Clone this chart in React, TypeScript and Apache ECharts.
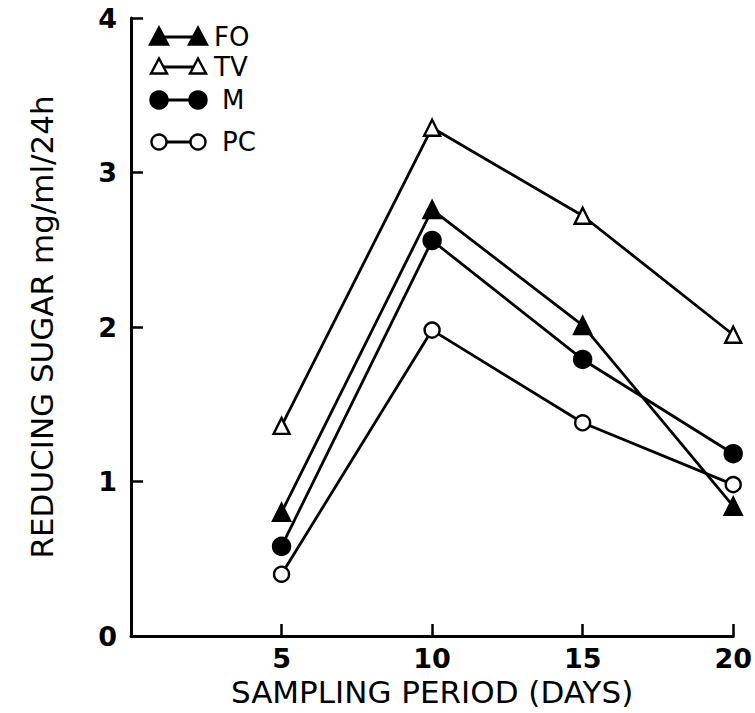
import React, { useEffect, useRef } from "react";
import * as echarts from "echarts";

const days = [5, 10, 15, 20];
const seriesNames = ["FO", "TV", "M", "PC"];
const foValues = [0.8, 2.76, 2.01, 0.84];
const tvValues = [1.36, 3.29, 2.72, 1.95];
const mValues = [0.58, 2.56, 1.79, 1.18];
const pcValues = [0.4, 1.98, 1.38, 0.98];
const xTicks = [5, 10, 15, 20];
const yTicks = [0, 1, 2, 3, 4];

const FONT = "DejaVu Sans";

type Style = { symbol: string; filled: boolean; size: number };
const styles: Style[] = [
  { symbol: "triangle", filled: true, size: 17 },
  { symbol: "triangle", filled: false, size: 16 },
  { symbol: "circle", filled: true, size: 17 },
  { symbol: "circle", filled: false, size: 15 },
];
const allValues = [foValues, tvValues, mValues, pcValues];

function legendGraphic() {
  const rowsY = [37, 67, 100, 142];
  const x1 = 159;
  const x2 = 198;
  const items: any[] = [];
  styles.forEach((s, i) => {
    const y = rowsY[i];
    items.push({
      type: "line",
      shape: { x1, y1: y, x2, y2: y },
      style: { stroke: "#000", lineWidth: 2.8 },
      z: 10,
    });
    [x1, x2].forEach((cx) => {
      const fill = s.filled ? "#000" : "#fff";
      if (s.symbol === "circle") {
        items.push({
          type: "circle",
          shape: { cx, cy: y, r: s.filled ? 8.5 : 7.5 },
          style: { fill, stroke: "#000", lineWidth: 2.4 },
          z: 11,
        });
      } else {
        const h = s.filled ? 17 : 15;
        const w = s.filled ? 18 : 16;
        items.push({
          type: "polygon",
          shape: {
            points: [
              [cx, y - h / 2 - 1],
              [cx + w / 2, y + h / 2 - 1],
              [cx - w / 2, y + h / 2 - 1],
            ],
          },
          style: { fill, stroke: "#000", lineWidth: 2.4 },
          z: 11,
        });
      }
    });
    items.push({
      type: "text",
      x: i < 2 ? 214 : 222,
      y,
      style: {
        text: seriesNames[i],
        font: `26px "${FONT}"`,
        fill: "#000",
        verticalAlign: "middle",
        align: "left",
      },
      z: 11,
    });
  });
  return items;
}

export default function App() {
  const ref = useRef<HTMLDivElement>(null);
  useEffect(() => {
    if (!ref.current) return;
    const chart = echarts.init(ref.current, null, { renderer: "svg" });
    const option: any = {
      animation: false,
      backgroundColor: "#fff",
      textStyle: { fontFamily: FONT, color: "#000" },
      grid: { left: 131, right: 17, top: 18, bottom: 77, containLabel: false },
      xAxis: {
        type: "value",
        min: 0,
        max: 20,
        interval: 5,
        name: "SAMPLING PERIOD (DAYS)",
        nameLocation: "middle",
        nameGap: 40,
        nameTextStyle: { fontSize: 31, color: "#000", fontFamily: FONT },
        axisLine: { show: true, lineStyle: { color: "#000", width: 3 } },
        axisTick: { show: true, inside: true, length: 12, lineStyle: { color: "#000", width: 2.5 } },
        axisLabel: {
          show: true,
          color: "#000",
          fontSize: 27,
          fontFamily: FONT,
          fontWeight: "bold",
          margin: 9,
          formatter: (v: number) => (xTicks.includes(v) ? String(v) : ""),
        },
        splitLine: { show: false },
      },
      yAxis: {
        type: "value",
        min: 0,
        max: 4,
        interval: 1,
        name: "REDUCING SUGAR mg/ml/24h",
        nameLocation: "middle",
        nameRotate: 90,
        nameGap: 74,
        nameTextStyle: { fontSize: 31, color: "#000", fontFamily: FONT },
        axisLine: { show: true, lineStyle: { color: "#000", width: 3 } },
        axisTick: { show: true, inside: true, length: 12, lineStyle: { color: "#000", width: 2.5 } },
        axisLabel: {
          show: true,
          color: "#000",
          fontSize: 27,
          fontFamily: FONT,
          fontWeight: "bold",
          margin: 14,
          formatter: (v: number) => (yTicks.includes(v) ? String(v) : ""),
        },
        splitLine: { show: false },
      },
      series: seriesNames.map((name, i) => ({
        name,
        type: "line",
        data: days.map((d, j) => [d, allValues[i][j]]),
        symbol: styles[i].symbol,
        symbolSize: styles[i].size,
        showAllSymbol: true,
        lineStyle: { color: "#000", width: 2.8 },
        itemStyle: {
          color: styles[i].filled ? "#000" : "#fff",
          borderColor: "#000",
          borderWidth: 2.4,
        },
        z: 3 + i,
      })),
      graphic: legendGraphic(),
    };
    chart.setOption(option);
    return () => chart.dispose();
  }, []);
  return (
    <div
      ref={ref}
      style={{ position: "fixed", left: 0, top: 0, width: 755, height: 713 }}
    />
  );
}
